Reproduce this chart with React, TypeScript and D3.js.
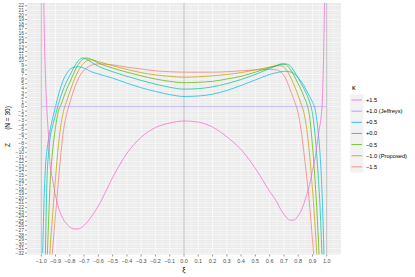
import * as d3 from 'd3';

const XI = [-0.99, -0.98, -0.97, -0.96, -0.95, -0.94, -0.92, -0.90, -0.88, -0.86, -0.84, -0.82, -0.80, -0.77, -0.74, -0.71, -0.68, -0.65, -0.60, -0.50, -0.40, -0.30, -0.20, -0.10, 0, 0.10, 0.20, 0.30, 0.40, 0.50, 0.60, 0.65, 0.68, 0.71, 0.74, 0.77, 0.80, 0.82, 0.84, 0.86, 0.88, 0.90, 0.92, 0.94, 0.95, 0.96, 0.97, 0.98, 0.99];

const Z_P15 = [40, 18, 6, -1, -6, -12, -16, -19.5, -22, -23.7, -24.9, -25.7, -26.3, -26.7, -26.7, -26.2, -25.3, -24.1, -21.7, -15.5, -10.2, -6.7, -4.6, -3.6, -3.15, -3.4, -4.5, -6.6, -9.4, -13.5, -18.5, -20.8, -22.6, -23.9, -24.8, -24.8, -23.8, -22.8, -21.2, -19.2, -17, -14, -11, -6.5, -4.5, -2.5, 2, 14, 35];
const Z_P10 = XI.map(() => 0);
const Z_P05 = [-32, -20, -12.8, -9.5, -7.3, -5.5, -2.5, 0, 2.5, 4.6, 6.2, 7.3, 8.1, 8.6, 8.7, 8.5, 8.1, 7.6, 7.1, 6.2, 5.1, 4.1, 3.3, 2.6, 2.2, 2.3, 2.7, 3.5, 4.6, 5.8, 7.0, 7.4, 7.6, 7.7, 7.6, 7.2, 6.3, 5.5, 4.6, 3.4, 2.2, 1.0, -0.8, -5.5, -9, -14, -21, -32, -50];
const Z_P00 = [-75, -50, -30, -16, -10.5, -7.3, -4.2, -1.8, 0.5, 2.5, 4.2, 5.6, 6.8, 8.6, 10.0, 10.6, 10.3, 9.7, 8.8, 7.6, 6.6, 5.7, 4.9, 4.2, 3.8, 3.9, 4.3, 5.0, 5.9, 7.0, 8.3, 8.9, 9.2, 9.3, 9.0, 7.8, 6.2, 5.1, 3.9, 2.6, 1.0, -1.5, -6.8, -15, -20, -27, -36, -50, -70];
const Z_M05 = [-70, -58, -46, -35, -26, -18, -9.5, -4.5, -1.0, 0.5, 2.3, 3.9, 5.3, 7.4, 9.2, 10.3, 10.6, 10.3, 9.5, 8.4, 7.5, 6.7, 6.0, 5.5, 5.2, 5.3, 5.5, 6.0, 6.6, 7.5, 8.5, 9.0, 9.3, 9.2, 8.3, 6.8, 5.0, 3.7, 2.2, 0.6, -2.2, -8.5, -17, -28, -35, -42, -50, -58, -66];
const Z_M10 = [-65, -58, -51, -45, -38, -32, -23.5, -15.5, -8.5, -3.5, -0.5, 1.3, 3.2, 5.8, 7.8, 9.2, 10.0, 10.2, 9.8, 8.9, 8.1, 7.4, 6.9, 6.6, 6.4, 6.5, 6.7, 7.0, 7.4, 8.0, 8.6, 8.9, 8.9, 8.3, 6.8, 4.8, 2.4, 0.6, -1.3, -5, -10.5, -18, -27, -37, -42, -47, -52, -57, -62];
const Z_M15 = [-60, -55, -50, -46, -42, -38, -31, -23.5, -16.3, -9.5, -4.3, -1.4, 0.8, 3.8, 6.1, 7.6, 8.5, 9.0, 9.3, 9.1, 8.6, 8.2, 7.8, 7.6, 7.5, 7.5, 7.5, 7.6, 7.8, 8.0, 8.1, 8.0, 7.5, 6.3, 4.0, 1.5, -1.5, -5, -10, -15.5, -21.5, -29, -37, -44, -47, -50, -53, -56, -60];

const KAPPA_LABELS = ['+1.5', '+1.0 (Jeffreys)', '+0.5', '+0.0', '\u22120.5', '\u22121.0 (Proposed)', '\u22121.5'];
const KAPPA_COLORS = ['#FB61D7', '#A58AFF', '#00B6EB', '#00C094', '#53B400', '#C49A00', '#F8766D'];
const KAPPA_Z = [Z_P15, Z_P10, Z_P05, Z_P00, Z_M05, Z_M10, Z_M15];

const X_TICKS = d3.range(-10, 11).map(d => d / 10);
const Y_TICKS = d3.range(-32, 23);

const W = 415, H = 277;
const PANEL = { left: 27, right: 341, top: 3, bottom: 254.5 };

const fmtNum = (v: number, digits: number) => {
  const s = v.toFixed(digits);
  return s.startsWith('-') ? '\u2212' + s.slice(1) : s;
};

export default function App() {
  const x = d3.scaleLinear().domain([-1.1, 1.1]).range([PANEL.left, PANEL.right]);
  const y = d3.scaleLinear().domain([-32.3, 22.6]).range([PANEL.bottom, PANEL.top]);

  const xMinor = d3.range(-11, 11).map(d => (d + 0.5) / 10);
  const yMinor = d3.range(-32, 22).map(d => d + 0.5);

  const series = KAPPA_LABELS.map((label, i) => ({
    label,
    color: KAPPA_COLORS[i],
    points: i === 1
      ? XI.filter(v => Math.abs(v) <= 0.99).map(v => [v, 0] as [number, number])
      : XI.map((v, j) => [v, KAPPA_Z[i][j]] as [number, number]),
  }));
  // Jeffreys line spans the full -1..1 range
  series[1].points = [[-1, 0], [1, 0]];

  const line = d3.line<[number, number]>()
    .x(d => x(d[0]))
    .y(d => y(d[1]))
    .curve(d3.curveMonotoneX);

  const font = "'Liberation Sans', Arial, sans-serif";
  const drawOrder = [6, 5, 4, 3, 2, 1, 0];

  return (
    <svg width={W} height={H} style={{ position: 'absolute', left: 0, top: 0 }} fontFamily={font}>
      <rect width={W} height={H} fill="#fff" />
      <defs>
        <clipPath id="panel">
          <rect x={PANEL.left} y={PANEL.top} width={PANEL.right - PANEL.left} height={PANEL.bottom - PANEL.top} />
        </clipPath>
      </defs>
      <rect x={PANEL.left} y={PANEL.top} width={PANEL.right - PANEL.left} height={PANEL.bottom - PANEL.top} fill="#EBEBEB" />
      <g clipPath="url(#panel)">
        {xMinor.map(v => (
          <line key={'xm' + v} x1={x(v)} x2={x(v)} y1={PANEL.top} y2={PANEL.bottom} stroke="#fff" strokeWidth={0.3} />
        ))}
        {yMinor.map(v => (
          <line key={'ym' + v} y1={y(v)} y2={y(v)} x1={PANEL.left} x2={PANEL.right} stroke="#fff" strokeWidth={0.3} />
        ))}
        {X_TICKS.map(v => (
          <line key={'xg' + v} x1={x(v)} x2={x(v)} y1={PANEL.top} y2={PANEL.bottom} stroke="#fff" strokeWidth={0.6} />
        ))}
        {Y_TICKS.map(v => (
          <line key={'yg' + v} y1={y(v)} y2={y(v)} x1={PANEL.left} x2={PANEL.right} stroke="#fff" strokeWidth={0.6} />
        ))}
        {[-1, 0, 1].map(v => (
          <line key={'vl' + v} x1={x(v)} x2={x(v)} y1={PANEL.top} y2={PANEL.bottom} stroke="#BEBEBE" strokeWidth={1} />
        ))}
        {drawOrder.map(i => (
          <path key={series[i].label} d={line(series[i].points) || ''} fill="none"
            stroke={series[i].color} strokeWidth={0.9} strokeOpacity={i === 1 ? 0.55 : 0.8} />
        ))}
      </g>

      {/* y axis */}
      {Y_TICKS.map(v => (
        <g key={'yt' + v}>
          <line x1={PANEL.left - 2} x2={PANEL.left} y1={y(v)} y2={y(v)} stroke="#333" strokeWidth={0.5} />
          <text x={PANEL.left - 3} y={y(v)} dy="0.35em" textAnchor="end" fontSize={5} fill="#4D4D4D">{fmtNum(v, 0)}</text>
        </g>
      ))}
      {/* x axis */}
      {X_TICKS.map(v => (
        <g key={'xt' + v}>
          <line x1={x(v)} x2={x(v)} y1={PANEL.bottom} y2={PANEL.bottom + 2} stroke="#333" strokeWidth={0.5} />
          <text x={x(v)} y={PANEL.bottom + 8} textAnchor="middle" fontSize={5.5} fill="#4D4D4D">{fmtNum(v, 1)}</text>
        </g>
      ))}
      <text x={x(0)} y={272} textAnchor="middle" fontSize={7.5} fill="#000">ξ</text>
      <text transform="translate(10,118) rotate(-90)" textAnchor="middle" fontSize={6.5} fill="#000">(N = 30)</text>
      <text transform="translate(10,145) rotate(-90)" textAnchor="middle" fontSize={6.5} fill="#000">Z</text>

      {/* legend */}
      <text x={352} y={90} fontSize={7} fill="#000">κ</text>
      {KAPPA_LABELS.map((label, i) => {
        const cy = 100 + i * 11.15;
        return (
          <g key={'lg' + label}>
            <rect x={350} y={cy - 5.6} width={13.5} height={11.15} fill="#F2F2F2" />
            <line x1={351.5} x2={362} y1={cy} y2={cy} stroke={KAPPA_COLORS[i]} strokeWidth={1} strokeOpacity={0.8} />
            <text x={366} y={cy} dy="0.35em" fontSize={5.7} fill="#000">{label}</text>
          </g>
        );
      })}
    </svg>
  );
}
